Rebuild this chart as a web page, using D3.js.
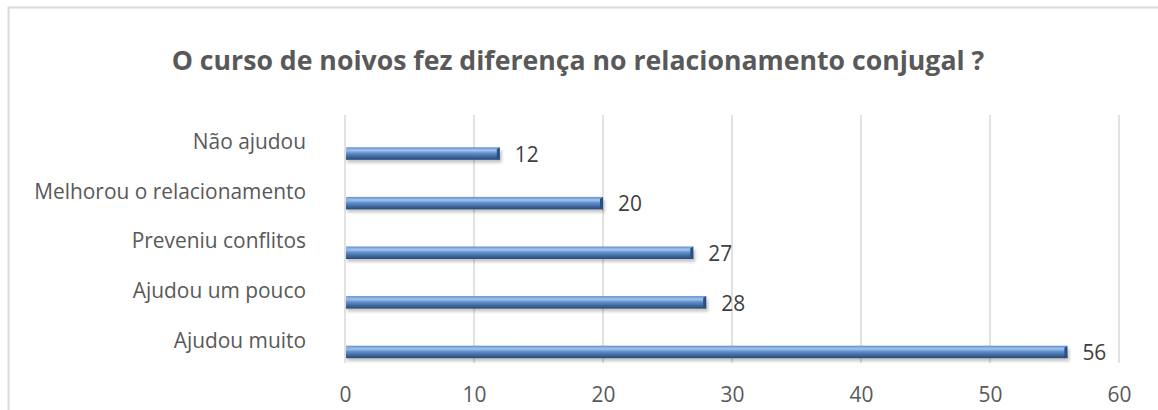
<!DOCTYPE html>
<html>
<head>
<meta charset="utf-8">
<script src="https://cdn.jsdelivr.net/npm/d3@7"></script>
<style>
  body { margin: 0; background: #fff; }
  svg { display: block; font-family: "Open Sans", "Noto Sans", sans-serif; }
</style>
</head>
<body>
<svg id="chart" width="1158" height="410"></svg>
<script>
// data (top to bottom)
const categories = ['Não ajudou', 'Melhorou o relacionamento', 'Preveniu conflitos', 'Ajudou um pouco', 'Ajudou muito']
const values = [12, 20, 27, 28, 56]
const xTicks = [0, 10, 20, 30, 40, 50, 60]
const title = 'O curso de noivos fez diferença no relacionamento conjugal ?'

const svg = d3.select('#chart')
const margin = { top: 115, bottom: 47, left: 345, right: 39 }
const width = 1158, height = 410

// helper: size text so it spans a given width
const fitSize = (sel, target, base) => {
    sel.attr('font-size', base)
    const w = sel.node().getComputedTextLength()
    return base * target / w
}

// outer chart border
svg.append('rect')
    .attr('x', 8.5).attr('y', 7.5)
    .attr('width', 1170).attr('height', 420)
    .attr('fill', 'none')
    .attr('stroke', '#d9d9d9')
    .attr('stroke-width', 2)

// gradient for bars
const defs = svg.append('defs')
const grad = defs.append('linearGradient')
    .attr('id', 'barGrad')
    .attr('x1', 0).attr('y1', 0).attr('x2', 0).attr('y2', 1)
grad.append('stop').attr('offset', '0%').attr('stop-color', '#5f8ecd')
grad.append('stop').attr('offset', '25%').attr('stop-color', '#a3c5ee')
grad.append('stop').attr('offset', '45%').attr('stop-color', '#6593d0')
grad.append('stop').attr('offset', '75%').attr('stop-color', '#40689f')
grad.append('stop').attr('offset', '100%').attr('stop-color', '#284a76')

const shadow = defs.append('filter').attr('id', 'shadow')
    .attr('x', '-5%').attr('y', '-50%').attr('width', '110%').attr('height', '250%')
shadow.append('feGaussianBlur').attr('stdDeviation', 1.5)

// scales
const x = d3.scaleLinear()
    .domain([0, 60])
    .range([margin.left, width - margin.right])

const y = d3.scaleBand()
    .domain(categories)
    .range([margin.top, height - margin.bottom])

// gridlines
svg.append('g')
    .selectAll('line')
    .data(xTicks)
    .join('line')
    .attr('x1', d => x(d)).attr('x2', d => x(d))
    .attr('y1', margin.top).attr('y2', height - margin.bottom)
    .attr('stroke', '#d9d9d9')
    .attr('stroke-width', 1.5)

// category labels (sized first so other text can match)
const cats = svg.append('g').selectAll('text')
    .data(categories)
    .join('text')
    .attr('x', 306)
    .attr('y', d => y(d) + y.bandwidth() / 2 + 2)
    .attr('dy', '0.35em')
    .attr('text-anchor', 'end')
    .attr('fill', '#595959')
    .text(d => d)
const catSize = fitSize(cats.filter((d, i) => i === 1), 272, 16)
cats.attr('font-size', catSize)

// x axis labels
const xAxis = d3.axisBottom(x).tickValues(xTicks).tickSize(0).tickPadding(0)
const xg = svg.append('g')
    .attr('transform', `translate(0, ${height - margin.bottom})`)
    .call(xAxis)
xg.select('.domain').remove()
xg.selectAll('text')
    .attr('y', 32)
    .attr('dy', '0.35em')
    .attr('fill', '#595959')
    .attr('font-size', catSize)
    .attr('font-family', '"Open Sans", sans-serif')

// bars (3D look: drawn in lower part of each band)
const barTop = 32.3, barH = 12.5
const bars = svg.append('g')

bars.selectAll('rect.shadow')
    .data(categories)
    .join('rect')
    .attr('class', 'shadow')
    .attr('x', x(0) + 2)
    .attr('y', d => y(d) + barTop + 3)
    .attr('width', (d, i) => x(values[i]) - x(0))
    .attr('height', barH)
    .attr('fill', '#000')
    .attr('opacity', 0.22)
    .attr('filter', 'url(#shadow)')

bars.selectAll('rect.bar')
    .data(categories)
    .join('rect')
    .attr('class', 'bar')
    .attr('x', x(0) + 1)
    .attr('y', d => y(d) + barTop)
    .attr('width', (d, i) => x(values[i]) - x(0) - 1)
    .attr('height', barH)
    .attr('fill', 'url(#barGrad)')

// end caps
bars.selectAll('path.cap')
    .data(categories)
    .join('path')
    .attr('class', 'cap')
    .attr('d', (d, i) => {
        const xe = x(values[i]), y0 = y(d) + barTop
        return `M${xe - 3},${y0 + 2} L${xe},${y0} L${xe},${y0 + barH} L${xe - 3},${y0 + barH - 1} Z`
    })
    .attr('fill', '#2b4f80')

// left bevel
bars.selectAll('path.lcap')
    .data(categories)
    .join('path')
    .attr('class', 'lcap')
    .attr('d', d => {
        const xs = x(0) + 1, y0 = y(d) + barTop
        return `M${xs},${y0} L${xs + 5},${y0 + 3} L${xs},${y0 + 5} Z`
    })
    .attr('fill', '#8fb4e3')

// value labels
svg.append('g')
    .selectAll('text')
    .data(categories)
    .join('text')
    .attr('x', (d, i) => x(values[i]) + 15)
    .attr('y', d => y(d) + barTop + barH / 2 + 1)
    .attr('dy', '0.35em')
    .attr('fill', '#404040')
    .attr('font-size', catSize)
    .text((d, i) => values[i])

// title
const t = svg.append('text')
    .attr('x', 578)
    .attr('y', 70)
    .attr('text-anchor', 'middle')
    .attr('font-weight', 'bold')
    .attr('fill', '#595959')
    .text(title)
t.attr('font-size', fitSize(t, 813, 20))
</script>
</body>
</html>
